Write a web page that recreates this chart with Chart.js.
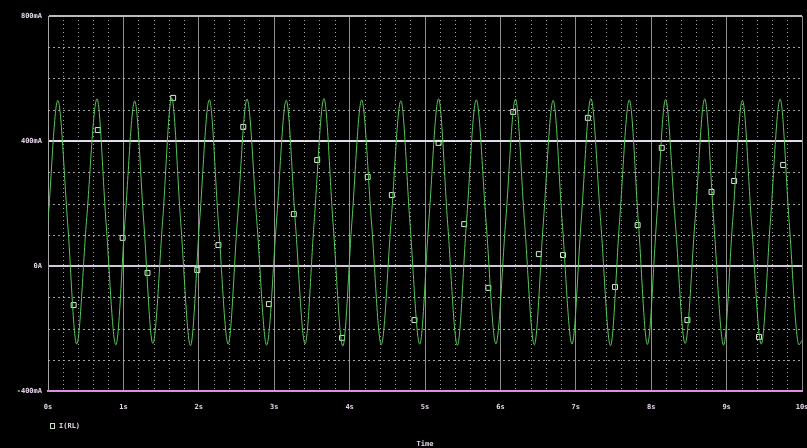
<!DOCTYPE html>
<html><head><meta charset="utf-8">
<script src="https://cdn.jsdelivr.net/npm/chart.js@4"></script>
<style>html,body{margin:0;padding:0;background:#000;}#wrap{width:807px;height:448px;}</style>
</head><body><div id="wrap"><canvas id="c" width="807" height="448"></canvas></div>
<script>
const timeS = [0.00,
 0.13,0.26,0.38,0.51, 0.65,0.77,0.90,1.02, 1.15,1.27,1.39,1.52, 1.64,1.76,1.89,2.01,
 2.14,2.26,2.39,2.51, 2.64,2.77,2.90,3.03, 3.16,3.28,3.41,3.53, 3.66,3.78,3.91,4.03,
 4.16,4.29,4.42,4.55, 4.68,4.80,4.93,5.05, 5.18,5.30,5.43,5.55, 5.68,5.81,5.94,6.07,
 6.20,6.32,6.45,6.57, 6.70,6.82,6.95,7.07, 7.20,7.33,7.46,7.58, 7.71,7.83,7.95,8.07,
 8.19,8.32,8.45,8.58, 8.71,8.83,8.96,9.08, 9.21,9.33,9.46,9.58, 9.71,9.83,9.96,10.00];
const currentMA = [145,
 530,140,-250,142, 535,138,-252,140, 528,141,-248,143, 538,140,-255,141,
 532,139,-250,140, 534,142,-253,141, 530,140,-249,142, 536,139,-256,140,
 531,141,-251,142, 529,140,-250,141, 535,138,-254,140, 532,141,-249,143,
 534,140,-252,141, 530,139,-250,140, 536,142,-255,142, 531,140,-251,141,
 533,139,-248,140, 535,141,-253,142, 530,140,-250,141, 534,140,-252,-238];
const markerTimeS = [0.34,0.66,0.99,1.32,1.66,1.98,2.26,2.59,2.93,3.26,3.57,3.90,4.24,4.56,4.86,
 5.18,5.52,5.84,6.17,6.51,6.83,7.16,7.52,7.82,8.14,8.48,8.80,9.10,9.43,9.75];
const markerMA = [-125,435,90,-22,538,-13,67,445,-122,166,339,-230,285,227,-173,
 394,134,-70,493,38,35,474,-67,131,378,-173,237,272,-227,323];
const xTickValues = [0,1,2,3,4,5,6,7,8,9,10];
const xTickText = ['0s','1s','2s','3s','4s','5s','6s','7s','8s','9s','10s'];
const yTickValues = [-400,0,400,800];
const yTickText = ['-400mA','0A','400mA','800mA'];
const seriesName = 'I(RL)';
const xTitle = 'Time';

const FONT = {family:'DejaVu Sans Mono', size:7, weight:'bold'};
const LABEL_COLOR = '#e6d6ea';

function isMajorX(v){ return xTickValues.some(t => Math.abs(t - v) < 1e-6); }
function isMajorY(v){ return yTickValues.some(t => Math.abs(t - v) < 1e-6); }

const minorGrid = {
  id:'minorGrid',
  beforeDatasetsDraw(chart){
    const {ctx, chartArea:a, scales:{x, y}} = chart;
    ctx.save();
    ctx.strokeStyle = 'rgba(190,190,190,0.85)';
    ctx.lineWidth = 1;
    ctx.setLineDash([1,3]);
    x.ticks.forEach(t => {
      if (isMajorX(t.value)) return;
      const px = Math.round(x.getPixelForValue(t.value)) + 0.5;
      ctx.beginPath(); ctx.moveTo(px, a.top); ctx.lineTo(px, a.bottom); ctx.stroke();
    });
    ctx.setLineDash([2,3]);
    y.ticks.forEach(t => {
      if (isMajorY(t.value)) return;
      const py = Math.round(y.getPixelForValue(t.value)) + 0.5;
      ctx.beginPath(); ctx.moveTo(a.left, py); ctx.lineTo(a.right, py); ctx.stroke();
    });
    ctx.restore();
  }
};

const legendPlugin = {
  id:'pspiceLegend',
  afterDraw(chart){
    const {ctx} = chart;
    ctx.save();
    ctx.strokeStyle = '#c8e4c8';
    ctx.lineWidth = 1;
    ctx.strokeRect(50.5, 423.5, 4, 5);
    ctx.fillStyle = LABEL_COLOR;
    ctx.font = 'bold 7px "DejaVu Sans Mono"';
    ctx.textBaseline = 'middle';
    ctx.fillText(seriesName, 59, 426.5);
    ctx.restore();
  }
};

new Chart(document.getElementById('c'), {
  type:'line',
  data:{
    datasets:[
      {
        label: seriesName,
        data: timeS.map((t,i)=>({x:t, y:currentMA[i]})),
        borderColor:'#58c858',
        borderWidth:1,
        pointRadius:0,
        cubicInterpolationMode:'monotone',
        fill:false
      },
      {
        label: seriesName + ' markers',
        data: markerTimeS.map((t,i)=>({x:t, y:markerMA[i]})),
        showLine:false,
        pointStyle:'rect',
        pointRadius:3.5,
        borderWidth:1,
        pointBorderColor:'#d4f0d4',
        pointBackgroundColor:'rgba(0,0,0,0)'
      }
    ]
  },
  options:{
    responsive:false,
    devicePixelRatio:1,
    animation:false,
    layout:{padding:{left:0, top:16, right:1, bottom:0}},
    plugins:{legend:{display:false}, tooltip:{enabled:false}},
    scales:{
      x:{
        type:'linear', min:0, max:10,
        afterFit(s){ s.height = 57; s.paddingLeft = 0; s.paddingRight = 0; },
        ticks:{
          stepSize:0.2, autoSkip:false, maxRotation:0, padding:12,
          color:LABEL_COLOR, font:FONT,
          callback(v){ const i = xTickValues.findIndex(t => Math.abs(t - v) < 1e-6); return i >= 0 ? xTickText[i] : ''; }
        },
        grid:{
          drawTicks:false,
          color(c){ return (c.tick && isMajorX(c.tick.value)) ? '#8c8c8c' : 'rgba(0,0,0,0)'; },
          lineWidth:1
        },
        border:{display:true, color:'#e08ee0', width:2},
        title:{display:true, text:xTitle, color:LABEL_COLOR, font:FONT, padding:{top:0, bottom:0}}
      },
      y:{
        type:'linear', min:-400, max:800,
        afterFit(s){ s.width = 48; s.paddingTop = 0; s.paddingBottom = 0; },
        ticks:{
          stepSize:100, autoSkip:false, padding:6,
          color:LABEL_COLOR, font:FONT,
          callback(v){ const i = yTickValues.findIndex(t => Math.abs(t - v) < 1e-6); return i >= 0 ? yTickText[i] : ''; }
        },
        grid:{
          drawTicks:false,
          color(c){
            if (!c.tick) return 'rgba(0,0,0,0)';
            const v = c.tick.value;
            if (v === 400) return '#e2dcec';
            if (v === 0) return '#d6c8dc';
            if (v === 800) return '#bcbcbc';
            return 'rgba(0,0,0,0)';
          },
          lineWidth(c){ return (c.tick && (c.tick.value === 400 || c.tick.value === 0 || c.tick.value === 800)) ? 2 : 1; }
        },
        border:{display:true, color:'#a4a4a4', width:1}
      }
    }
  },
  plugins:[minorGrid, legendPlugin]
});
</script>
</body></html>
